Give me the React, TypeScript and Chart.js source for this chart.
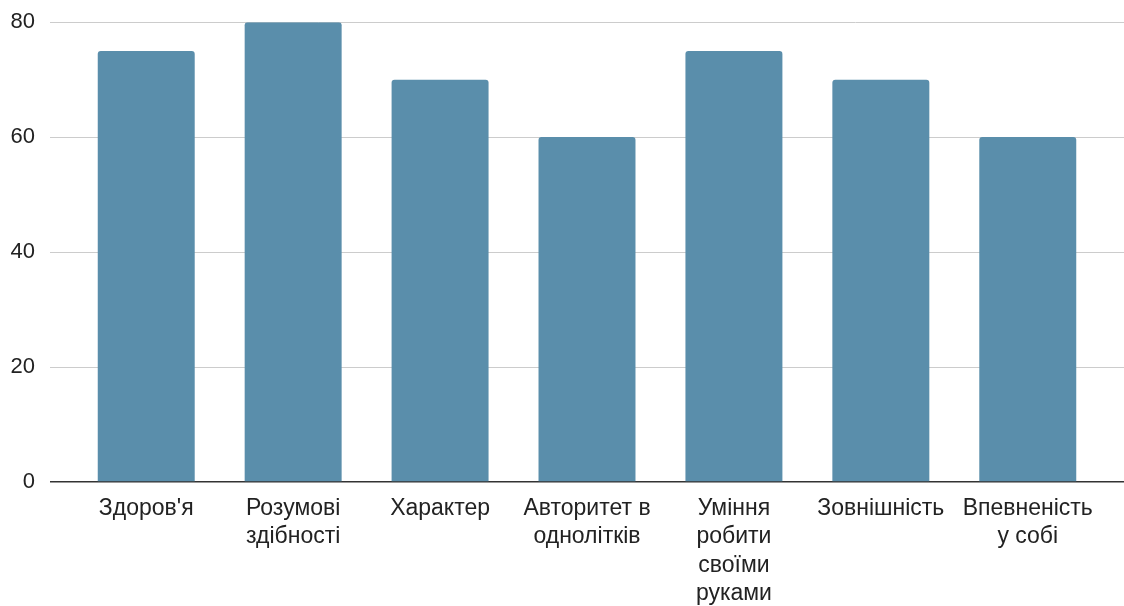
import React, { useEffect, useRef } from "react";
import { Chart, registerables } from "chart.js";

Chart.register(...registerables);

const categories: string[][] = [
  ["Здоров'я"],
  ["Розумові", "здібності"],
  ["Характер"],
  ["Авторитет в", "однолітків"],
  ["Уміння", "робити", "своїми", "руками"],
  ["Зовнішність"],
  ["Впевненість", "у собі"],
];
const values: number[] = [75, 80, 70, 60, 75, 70, 60];
const yTicks: number[] = [0, 20, 40, 60, 80];

const FONT = "\"Liberation Sans\", Arial, Helvetica, sans-serif";

export default function App() {
  const ref = useRef<HTMLCanvasElement | null>(null);
  useEffect(() => {
    document.body.style.margin = "0";
    const ctx = ref.current!.getContext("2d")!;
    const chart = new Chart(ctx, {
      type: "bar",
      data: {
        datasets: [
          {
            data: values.map((v, i) => ({ x: i, y: v })),
            backgroundColor: "#5a8eab",
            borderRadius: { topLeft: 3, topRight: 3, bottomLeft: 0, bottomRight: 0 },
            borderSkipped: "bottom",
            categoryPercentage: 1,
            barPercentage: 0.66,
          },
        ],
      },
      options: {
        animation: false,
        responsive: false,
        maintainAspectRatio: false,
        layout: { padding: { top: 0, left: 0, right: 0, bottom: 0 } },
        plugins: { legend: { display: false }, tooltip: { enabled: false } },
        scales: {
          x: {
            type: "linear",
            offset: false,
            min: -0.655,
            max: 6.655,
            grid: { display: false, drawTicks: false, offset: false },
            border: { display: false },
            ticks: {
              stepSize: 1,
              includeBounds: false,
              autoSkip: false,
              maxRotation: 0,
              minRotation: 0,
              padding: 12,
              color: "#222",
              font: { family: FONT, size: 23, lineHeight: 1.24 },
              callback: (v: any) => {
                const i = Math.round(Number(v));
                return Number.isInteger(Number(v)) && categories[i] ? categories[i] : "";
              },
            },
            afterFit: (s: any) => {
              s.height = 124;
            },
          },
          y: {
            min: 0,
            max: 80,
            afterBuildTicks: (s: any) => {
              s.ticks = yTicks.map((v) => ({ value: v }));
            },
            grid: {
              drawTicks: false,
              color: (c: any) => (c.tick && c.tick.value === 0 ? "#333" : "#cccccc"),
              lineWidth: (c: any) => (c.tick && c.tick.value === 0 ? 1.5 : 1),
            },
            border: { display: false },
            ticks: {
              padding: 15,
              color: "#222",
              font: { family: FONT, size: 22, lineHeight: 0.65 },
            },
            afterFit: (s: any) => {
              s.width = 50;
            },
          },
        },
      },
    });
    return () => chart.destroy();
  }, []);
  return (
    <div style={{ position: "absolute", left: 0, top: 0, width: 1124, height: 606, background: "#fff" }}>
      <canvas ref={ref} width={1124} height={606} style={{ width: 1124, height: 606 }} />
    </div>
  );
}
